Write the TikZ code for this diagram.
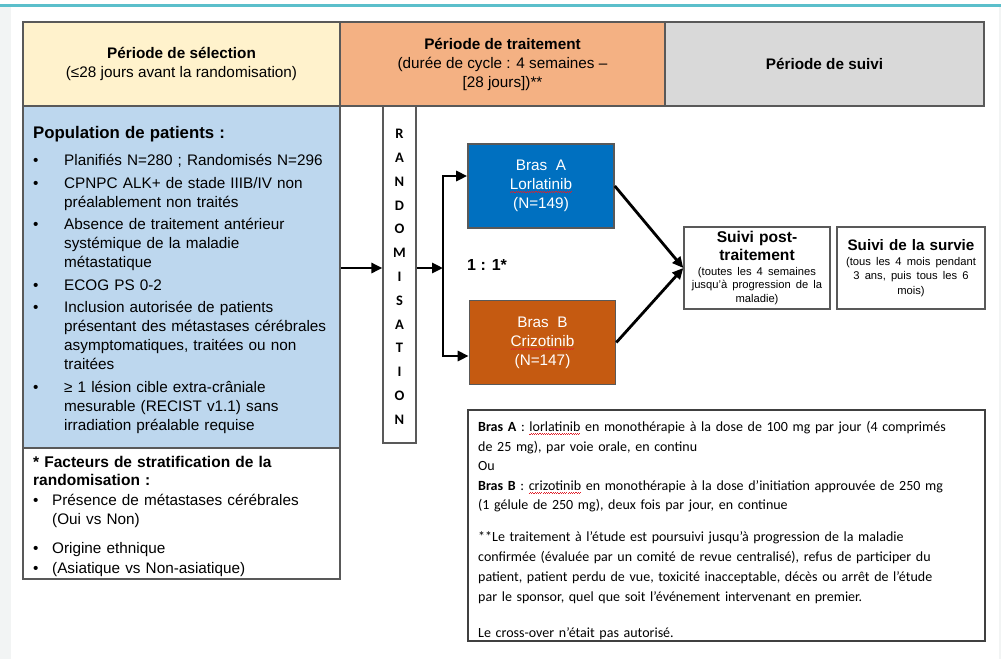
\documentclass[tikz,border=0pt]{standalone}
\usepackage{fontspec}
\setmainfont{Liberation Sans}
\newfontfamily\calib{Carlito}
\usetikzlibrary{positioning, arrows.meta}

\definecolor{selyellow}{HTML}{FFF2CC}
\definecolor{traitorange}{HTML}{F4B183}
\definecolor{suivigray}{HTML}{D9D9D9}
\definecolor{popblue}{HTML}{BDD7EE}
\definecolor{armblue}{HTML}{0070C0}
\definecolor{armorange}{HTML}{C55A11}
\definecolor{framegray}{HTML}{595959}
\definecolor{tealline}{HTML}{5BBFCB}
\definecolor{stripgray}{HTML}{F2F4F4}
\definecolor{spellred}{HTML}{E0202A}

% red spell-check wave under a word
\newcommand\squig[1]{\setbox0\hbox{#1}\rlap{\textcolor{spellred}{\hbox to \wd0{\xleaders\hbox{\rule[-3.2pt]{1.1pt}{0.7pt}\rule[-2.4pt]{1.1pt}{0.7pt}}\hfil}}}\box0\relax}

\newcommand\bodyfont{\fontsize{15.3}{19}\selectfont}
\newcommand\smallfont{\fontsize{11.2}{13.2}\selectfont}
\newcommand\notefont{\calib\fontsize{14}{19.6}\selectfont}
% bullet with hanging text
\newcommand\bul[2][31pt]{\par\vspace{3.5pt}\hangindent=#1\hangafter=1\noindent\makebox[#1][l]{\textbullet}#2\par}

\begin{document}
\begin{tikzpicture}[x=1pt, y=-1pt,
    cell/.style={draw=framegray, line width=1.6pt, inner sep=0pt, align=center, font=\bodyfont},
    armbox/.style={cell, text=white, minimum width=146pt, minimum height=84pt},
    follow/.style={cell, line width=1.4pt, fill=white, minimum height=82pt, text width=142pt},
    arrow/.style={-{Triangle[length=11pt, width=10pt]}, line width=2.8pt}]
    \useasboundingbox (0,0) rectangle (1001,659);
    \fill[stripgray] (0,7) rectangle (11,659);
    \fill[tealline] (0,4) rectangle (1001,6.5);
    \draw[stripgray, line width=1.5pt] (1000,7) -- (1000,659);

    % header
    \node[cell, fill=selyellow, minimum width=317pt, minimum height=84pt] (sel) at (181.5,64) {\textbf{Période de sélection}\\(≤28 jours avant la randomisation)};
    \node[cell, fill=traitorange, minimum width=325pt, minimum height=84pt] (trait) at (502.5,64) {\textbf{Période de traitement}\\(durée de cycle : 4 semaines –\\{}[28 jours])**};
    \node[cell, fill=suivigray, minimum width=319pt, minimum height=84pt] (suivi) at (824.5,64) {\textbf{Période de suivi}};

    % population
    \node[cell, fill=popblue, minimum width=317pt, minimum height=342pt] (pop) at (181.5,277) {};
    \node[anchor=north west, inner sep=0pt, text width=305pt, align=left, font=\bodyfont] (poptxt) at (33,126) {%
        {\fontsize{16.8}{19}\selectfont\bfseries Population de patients :}\par\vspace{5pt}
        \bul{Planifiés N=280 ; Randomisés N=296}
        \bul{CPNPC ALK+ de stade IIIB/IV non\newline préalablement non traités}
        \bul{Absence de traitement antérieur\newline systémique de la maladie\newline métastatique}
        \bul{ECOG PS 0-2}
        \bul{Inclusion autorisée de patients\newline présentant des métastases cérébrales\newline asymptomatiques, traitées ou non\newline traitées}
        \bul{≥ 1 lésion cible extra-crâniale\newline mesurable (RECIST v1.1) sans\newline irradiation préalable requise}};

    % stratification
    \node[cell, fill=white, minimum width=317pt, minimum height=131pt] (strat) at (181.5,513.5) {};
    \node[anchor=north west, inner sep=0pt, text width=305pt, align=left, font=\fontsize{15.3}{18.5}\selectfont] (strattxt) at (33,456) {%
        {\fontsize{15.5}{17.5}\selectfont\bfseries * Facteurs de stratification de la\newline randomisation :}\par\vspace{-2pt}
        \bul[19pt]{Présence de métastases cérébrales\newline (Oui vs Non)}\vspace{7pt}
        \bul[19pt]{Origine ethnique}\vspace{-2pt}
        \bul[19pt]{(Asiatique vs Non-asiatique)}};

    % randomisation
    \node[cell, line width=1.2pt, fill=white, minimum width=33pt, minimum height=337pt,
        font=\calib\bfseries\fontsize{14.5}{23.8}\selectfont] (rando) at (399.5,274.5)
        {\\[-10pt]R\\A\\N\\D\\O\\M\\I\\S\\A\\T\\I\\O\\N};

    % arms
    \node[armbox, fill=armblue] (armA) at (541,186) {Bras~ A\\\squig{Lorlatinib}\\(N=149)};
    \node[armbox, fill=armorange] (armB) at (542.5,342.5) {Bras~ B\\\squig{Crizotinib}\\(N=147)};
    \node[anchor=west, inner sep=0pt, font=\bfseries\fontsize{16}{19}\selectfont] (ratio) at (467,265) {1 : 1*};

    % follow-up
    \node[follow, minimum width=146pt] (post) at (757,268) {\centering
        {\bfseries\fontsize{15.6}{18}\selectfont Suivi post-\par traitement\par}\vspace{1.5pt}
        {\smallfont (toutes les 4 semaines\par jusqu'à progression de la\par maladie)\par}};
    \node[follow, minimum width=148pt] (surv) at (911,268) {\centering
        {\bfseries\fontsize{15.2}{18}\selectfont Suivi de la survie\par}
        {\fontsize{11.2}{14.5}\selectfont (tous les 4 mois pendant\par 3 ans, puis tous les 6\par mois)\par}};

    % notes
    \node[cell, line width=1.8pt, draw=black!75, fill=white, minimum width=517pt, minimum height=231pt] (note) at (726.5,525.5) {};
    \node[anchor=north west, inner sep=0pt, text width=500pt, align=left, font=\notefont] (notetxt) at (478,421) {%
        \textbf{Bras A} : \squig{lorlatinib} en monothérapie à la dose de 100 mg par jour (4 comprimés\newline
        de 25 mg), par voie orale, en continu\newline
        Ou\newline
        \textbf{Bras B} : \squig{crizotinib} en monothérapie à la dose d’initiation approuvée de 250 mg\newline
        (1 gélule de 250 mg), deux fois par jour, en continue\par\vspace{11pt}
        \fontsize{14}{20.2}\selectfont
        **Le traitement à l’étude est poursuivi jusqu’à progression de la maladie\newline
        confirmée (évaluée par un comité de revue centralisé), refus de participer du\newline
        patient, patient perdu de vue, toxicité inacceptable, décès ou arrêt de l’étude\newline
        par le sponsor, quel que soit l’événement intervenant en premier.\par\vspace{16pt}
        Le cross-over n’était pas autorisé.\par};

    % connectors
    \coordinate (split) at (443,268);
    \draw[arrow] (pop.east |- split) -- (rando.west |- split);
    \draw[arrow] (rando.east |- split) -- (split);
    \draw[arrow] (split) |- ([yshift=10pt]armA.west);
    \draw[arrow] (split) |- ([yshift=-13.5pt]armB.west);
    \draw[arrow] (armA.east) -- (post.west);
    \draw[arrow] (armB.east) -- (post.west);
\end{tikzpicture}
\end{document}
